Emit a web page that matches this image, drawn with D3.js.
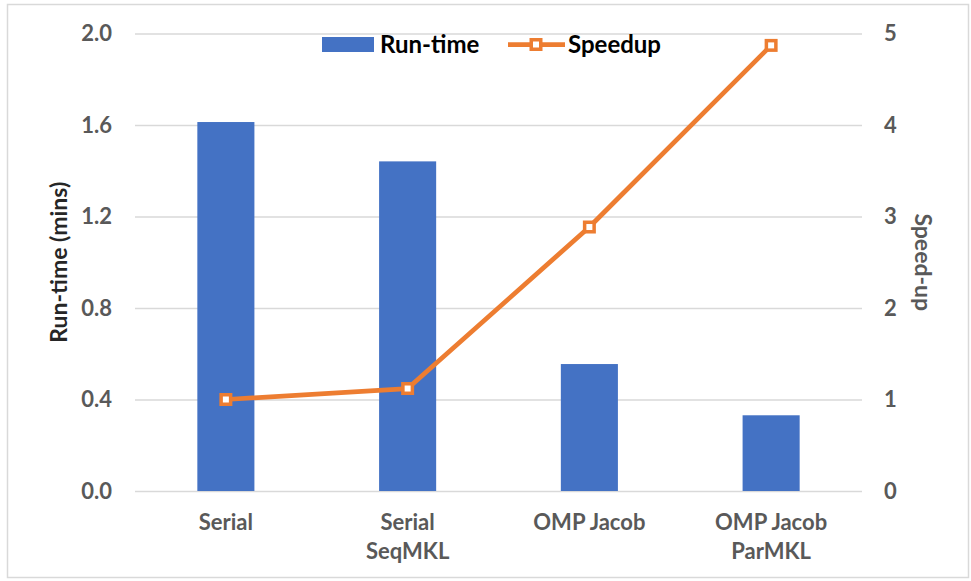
<!DOCTYPE html>
<html>
<head>
<meta charset="utf-8">
<script src="https://cdn.jsdelivr.net/npm/d3@7"></script>
<style>
  html, body { margin: 0; padding: 0; background: #fff; }
  svg { display: block; font-family: Lato, "Open Sans", sans-serif; font-weight: bold; }
</style>
</head>
<body>
<svg id="chart" width="971" height="581"></svg>
<script>
// Solver configurations (two-line labels split on "\n")
const categories = ["Serial", "Serial\nSeqMKL", "OMP Jacob", "OMP Jacob\nParMKL"];
// Run-time in minutes
const runTime = [1.613, 1.441, 0.555, 0.331];
// Speed-up relative to the serial run
const speedup = [1.0, 1.12, 2.885, 4.87];
const leftTicks = [0.0, 0.4, 0.8, 1.2, 1.6, 2.0];
const rightTicks = [0, 1, 2, 3, 4, 5];

const svg = d3.select("#chart");
const plot = { left: 135, right: 862, top: 33.5, bottom: 491 };
const FONT = "Lato, 'Open Sans', sans-serif";

// outer frame
svg.append("rect")
  .attr("x", 7.5).attr("y", 4.5)
  .attr("width", 961).attr("height", 573)
  .attr("fill", "#fff").attr("stroke", "#d9d9d9").attr("stroke-width", 1.5);

const x = d3.scaleBand()
  .domain(categories)
  .range([plot.left, plot.right])
  .paddingInner(0.686)
  .paddingOuter(0.343);

const yL = d3.scaleLinear().domain([0, 2]).range([plot.bottom, plot.top]);
const yR = d3.scaleLinear().domain([0, 5]).range([plot.bottom, plot.top]);

// gridlines
svg.append("g")
  .attr("transform", `translate(${plot.left},0)`)
  .call(d3.axisLeft(yL).tickValues(leftTicks).tickSize(-(plot.right - plot.left)).tickFormat(""))
  .call(g => g.select(".domain").remove())
  .call(g => g.selectAll("line").attr("stroke", "#d9d9d9").attr("stroke-width", 1.5));

// left axis labels
svg.append("g")
  .attr("transform", `translate(${plot.left},0)`)
  .call(d3.axisLeft(yL).tickValues(leftTicks).tickSize(0).tickPadding(23).tickFormat(d3.format(".1f")))
  .call(g => g.select(".domain").remove())
  .call(g => g.selectAll("text")
    .attr("fill", "#595959").attr("font-size", 22)
    .attr("font-family", FONT).attr("font-weight", "bold"));

// right axis labels
svg.append("g")
  .attr("transform", `translate(${plot.right},0)`)
  .call(d3.axisRight(yR).tickValues(rightTicks).tickSize(0).tickPadding(22).tickFormat(d3.format("d")))
  .call(g => g.select(".domain").remove())
  .call(g => g.selectAll("text")
    .attr("fill", "#595959").attr("font-size", 22)
    .attr("font-family", FONT).attr("font-weight", "bold"));

// bars
svg.append("g").selectAll("rect")
  .data(categories.map((c, i) => ({ c, v: runTime[i] })))
  .join("rect")
  .attr("x", d => x(d.c))
  .attr("width", x.bandwidth())
  .attr("y", d => yL(d.v))
  .attr("height", d => yL(0) - yL(d.v))
  .attr("fill", "#4472c4");

// speed-up line
const pts = categories.map((c, i) => [x(c) + x.bandwidth() / 2, yR(speedup[i])]);
svg.append("path")
  .attr("d", d3.line()(pts))
  .attr("fill", "none")
  .attr("stroke", "#ed7d31")
  .attr("stroke-width", 4.75)
  .attr("stroke-linejoin", "round");

svg.append("g").selectAll("rect")
  .data(pts)
  .join("rect")
  .attr("x", d => d[0] - 4.75).attr("y", d => d[1] - 4.75)
  .attr("width", 9.5).attr("height", 9.5)
  .attr("fill", "#fff").attr("stroke", "#ed7d31").attr("stroke-width", 3.5);

// category labels
const catG = svg.append("g");
categories.forEach(c => {
  const lines = c.split("\n");
  const cx = x(c) + x.bandwidth() / 2;
  const t = catG.append("text")
    .attr("x", cx)
    .attr("y", 530)
    .attr("text-anchor", "middle")
    .attr("fill", "#595959")
    .attr("font-size", 22);
  lines.forEach((ln, j) => {
    t.append("tspan").attr("x", cx).attr("dy", j === 0 ? 0 : 29).text(ln);
  });
});

// axis titles
svg.append("text")
  .attr("transform", `translate(67,${(plot.top + plot.bottom) / 2}) rotate(-90)`)
  .attr("text-anchor", "middle")
  .attr("fill", "#262626")
  .attr("font-size", 23)
  .text("Run-time (mins)");

svg.append("text")
  .attr("transform", `translate(915,${(plot.top + plot.bottom) / 2}) rotate(90)`)
  .attr("text-anchor", "middle")
  .attr("fill", "#595959")
  .attr("font-size", 23)
  .text("Speed-up");

// legend
const lg = svg.append("g");
lg.append("rect").attr("x", 322).attr("y", 37).attr("width", 52).attr("height", 15).attr("fill", "#4472c4");
lg.append("text").attr("x", 380).attr("y", 52.5).attr("fill", "#000").attr("font-size", 24).text("Run-time");
lg.append("line").attr("x1", 508).attr("x2", 565).attr("y1", 44.5).attr("y2", 44.5)
  .attr("stroke", "#ed7d31").attr("stroke-width", 4.75);
lg.append("rect").attr("x", 531.25).attr("y", 39.75).attr("width", 9.5).attr("height", 9.5)
  .attr("fill", "#fff").attr("stroke", "#ed7d31").attr("stroke-width", 3.5);
lg.append("text").attr("x", 568).attr("y", 52.5).attr("fill", "#000").attr("font-size", 24).text("Speedup");
</script>
</body>
</html>
